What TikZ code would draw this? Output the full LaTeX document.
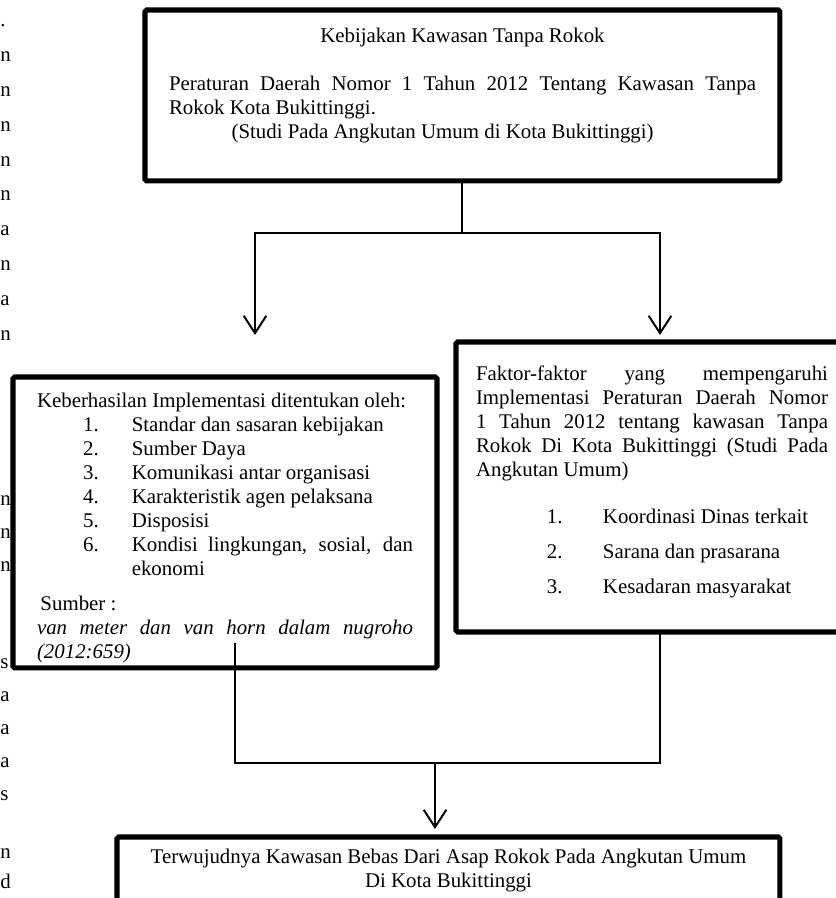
\documentclass[tikz,border=0pt]{standalone}
\usepackage{fontspec}
\setmainfont{Liberation Serif}
\usetikzlibrary{arrows.meta}

\begin{document}
\begin{tikzpicture}[
  x=0.575pt, y=-0.575pt,
  kotak/.style={draw, line width=2.9pt, rounded corners=1pt, anchor=north west, inner ysep=0pt, outer sep=0pt, font=\fontsize{12}{13.8}\selectfont},
  garis/.style={line width=1.15pt},
  panah/.style={garis, -{Straight Barb[length=10pt, width=13pt]}},
  potongan/.style={anchor=base west, inner sep=0pt, font=\fontsize{12}{13.8}\selectfont}
]
\useasboundingbox (0,0) rectangle (836,898);
\clip (0,0) rectangle (836,898);

% sisa teks halaman di tepi kiri
\foreach \yy/\hrf in {26/., 61/n, 96/n, 131/n, 166/n, 200/n, 235/a, 270/n, 305/a, 340/n,
                      505/n, 538/n, 571/n, 668/s, 701/a, 734/a, 767/a, 800/s, 858/n, 888/d}
  \node[potongan] (tepi\yy) at (0,\yy) {\hrf};

\node[kotak, inner xsep=13.8pt] (atas) at (145,10) {\parbox[c][98.3pt][t]{337.5pt}{\vspace*{10.2pt}%
  \makebox[\linewidth][c]{Kebijakan Kawasan Tanpa Rokok}\\[13.8pt]
  \makebox[\linewidth][s]{Peraturan Daerah Nomor 1 Tahun 2012 Tentang Kawasan Tanpa}\\
  Rokok Kota Bukittinggi.\\
  \hspace*{36pt}(Studi Pada Angkutan Umum di Kota Bukittinggi)}};

\node[kotak, inner xsep=13.8pt] (kiri) at (13,377) {\parbox[c][167.3pt][t]{216.2pt}{\vspace*{9pt}%
  Keberhasilan Implementasi ditentukan oleh:\\
  \hspace*{26.5pt}\makebox[28pt][l]{1.}Standar dan sasaran kebijakan\\
  \hspace*{26.5pt}\makebox[28pt][l]{2.}Sumber Daya\\
  \hspace*{26.5pt}\makebox[28pt][l]{3.}Komunikasi antar organisasi\\
  \hspace*{26.5pt}\makebox[28pt][l]{4.}Karakteristik agen pelaksana\\
  \hspace*{26.5pt}\makebox[28pt][l]{5.}Disposisi\\
  \hspace*{26.5pt}\makebox[28pt][l]{6.}\makebox[161.7pt][s]{Kondisi lingkungan, sosial, dan}\\
  \hspace*{54.5pt}ekonomi\\[6.3pt]
  \hspace*{2pt}Sumber :\\
  \textit{\makebox[\linewidth][s]{van meter dan van horn dalam nugroho}}\\
  \textit{(2012:659)}}};

\node[kotak, inner xsep=11.5pt] (kanan) at (456,342) {\parbox[c][166.75pt][t]{202.4pt}{\vspace*{13.6pt}%
  \makebox[\linewidth][s]{Faktor-faktor yang mempengaruhi}\\
  \makebox[\linewidth][s]{Implementasi Peraturan Daerah Nomor}\\
  \makebox[\linewidth][s]{1 Tahun 2012 tentang kawasan Tanpa}\\
  \makebox[\linewidth][s]{Rokok Di Kota Bukittinggi (Studi Pada}\\
  Angkutan Umum)\\[13.2pt]
  \hspace*{40.8pt}\makebox[32.2pt][l]{1.}Koordinasi Dinas terkait\\[6.3pt]
  \hspace*{40.8pt}\makebox[32.2pt][l]{2.}Sarana dan prasarana\\[6.3pt]
  \hspace*{40.8pt}\makebox[32.2pt][l]{3.}Kesadaran masyarakat}};

\node[kotak, inner xsep=13.8pt] (bawah) at (117,837) {\parbox[c][86pt][t]{353.6pt}{\vspace*{6.8pt}%
  \centering Terwujudnya Kawasan Bebas Dari Asap Rokok Pada Angkutan Umum\\
  Di Kota Bukittinggi}};

\path (atas.south) ++(0,52) coordinate (cabang);
\coordinate (ujungkiri) at (255,335);
\coordinate (ujungkanan) at (660,335);
\coordinate (awalkiri) at (235,643);
\coordinate (gabung) at (435,763);
\coordinate (ujungbawah) at (435,829);

\draw[garis] (atas.south) -- (cabang);
\draw[panah] (cabang) -| (ujungkiri);
\draw[panah] (cabang) -| (ujungkanan);
\draw[garis] (awalkiri) |- (gabung -| ujungkanan) -- (ujungkanan |- kanan.south);
\draw[panah] (gabung) -- (ujungbawah);
\end{tikzpicture}
\end{document}
